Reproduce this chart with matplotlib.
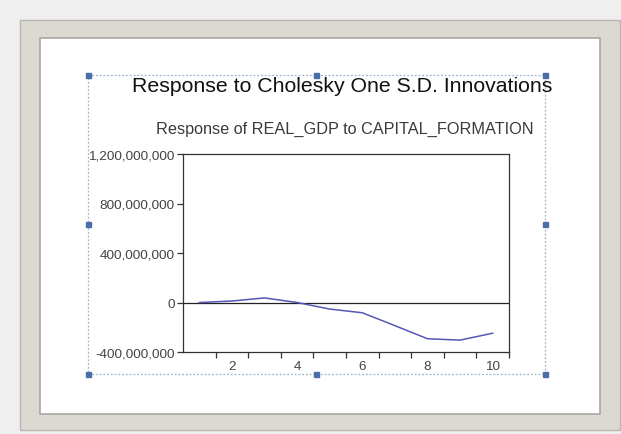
import numpy as np
import matplotlib
matplotlib.use("Agg")
import matplotlib.pyplot as plt
from matplotlib.patches import Rectangle
from matplotlib.ticker import FixedLocator, FuncFormatter

# impulse response, periods 1..10
periods = np.arange(1, 11)
response = [0, 12e6, 37e6, 0, -53e6, -83e6, -187e6, -293e6, -304e6, -248e6]
yticks = [-400e6, 0, 400e6, 800e6, 1200e6]
xlabels = [2, 4, 6, 8, 10]

title = "Response to Cholesky One S.D. Innovations"
subtitle = "Response of REAL_GDP to CAPITAL_FORMATION"

plt.rcParams['font.family'] = ['Liberation Sans', 'DejaVu Sans']

W, H = 621, 435
fig = plt.figure(figsize=(W / 100, H / 100), dpi=100)

# background "window" drawn in pixel coords
bg = fig.add_axes([0, 0, 1, 1])
bg.set_xlim(0, W)
bg.set_ylim(H, 0)
bg.axis('off')
bg.add_patch(Rectangle((0, 0), W, H, color='#efefef', zorder=0))
bg.add_patch(Rectangle((20, 21), 600, 410, facecolor='#dbd9d2',
                       edgecolor='#b8b6b0', lw=1, zorder=1))
bg.add_patch(Rectangle((40, 39), 560, 376, facecolor='white',
                       edgecolor='#a9a7a2', lw=1.2, zorder=2))
# selection box + handles
bx0, by0, bx1, by1 = 88, 76, 545, 375
bg.add_patch(Rectangle((bx0, by0), bx1 - bx0, by1 - by0, fill=False,
                       edgecolor='#9fb4cc', lw=0.9, ls=(0, (1.5, 1.5)), zorder=3))
hx = [bx0, (bx0 + bx1) / 2, bx1]
hy = [by0, (by0 + by1) / 2, by1]
for x in hx:
    for y in hy:
        if x == hx[1] and y == hy[1]:
            continue
        bg.add_patch(Rectangle((x - 2.5, y - 2.5), 5, 5, color='#4a6fa8', zorder=4))

bg.text(342, 87, title, ha='center', va='center', fontsize=15.3,
        color='#111111', zorder=5)
bg.text(345, 129, subtitle, ha='center', va='center', fontsize=11.7,
        color='#3a3a3a', zorder=5)

# plot area
ax = fig.add_axes([183 / W, 1 - 353 / H, 326 / W, 198 / H])
ax.set_facecolor('none')
ax.plot(periods, response, color='#5656b4', lw=1.1, zorder=3)
ax.axhline(0, color='#222222', lw=0.9, zorder=2)
ax.set_xlim(0.5, 10.5)
ax.set_ylim(-400e6, 1200e6)

ax.set_yticks(yticks)
ax.yaxis.set_major_formatter(FuncFormatter(lambda v, p: f"{int(round(v)):,}"))
ax.xaxis.set_major_locator(FixedLocator(np.arange(1.5, 11, 1)))
ax.xaxis.set_major_formatter(FuncFormatter(lambda v, p: ""))
ax.xaxis.set_minor_locator(FixedLocator(xlabels))
ax.xaxis.set_minor_formatter(FuncFormatter(lambda v, p: f"{int(v)}"))
ax.tick_params(axis='x', which='major', length=4, width=0.9, color='#333333')
ax.tick_params(axis='x', which='minor', length=0, labelsize=9.7,
               labelcolor='#444444', pad=6)
ax.tick_params(axis='y', length=4, width=0.9, color='#333333',
               labelsize=9.7, labelcolor='#444444', pad=2)
for s in ax.spines.values():
    s.set_color('#333333')
    s.set_linewidth(0.9)

fig.savefig("out.png", dpi=100)
